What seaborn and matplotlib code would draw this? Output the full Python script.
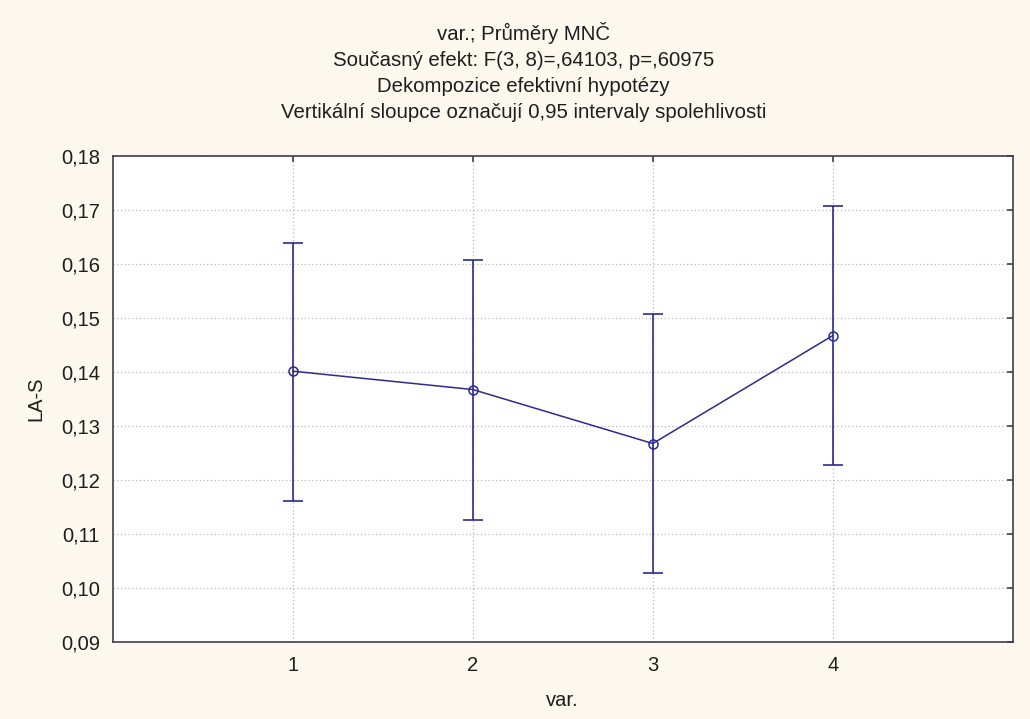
import matplotlib
matplotlib.use("Agg")
import matplotlib.pyplot as plt
import seaborn as sns
import pandas as pd
from matplotlib.ticker import FuncFormatter

categories = [1, 2, 3, 4]
means = [0.1401, 0.1367, 0.1267, 0.1467]
upper = [0.1639, 0.1607, 0.1506, 0.1707]
lower = [0.1160, 0.1126, 0.1028, 0.1227]
yticks = [0.09, 0.10, 0.11, 0.12, 0.13, 0.14, 0.15, 0.16, 0.17, 0.18]

title_lines = [
    "var.; Průměry MNČ",
    "Současný efekt: F(3, 8)=,64103, p=,60975",
    "Dekompozice efektivní hypotézy",
    "Vertikální sloupce označují 0,95 intervaly spolehlivosti",
]

sns.set_theme(style="white")
plt.rcParams['font.family'] = ['Liberation Sans', 'DejaVu Sans']

bg = "#fcf8ee"
line_color = "#2b2b8f"
text_color = "#1e1e1e"

W, H = 1030, 719
fig = plt.figure(figsize=(W / 100, H / 100), dpi=100, facecolor=bg)
ax = fig.add_axes([112.5 / W, 1 - 641.7 / H, (1013 - 112.5) / W, (641.7 - 155.7) / H])
ax.set_facecolor("white")

df = pd.DataFrame({"var.": categories, "LA-S": means})

yerr = [[m - l for m, l in zip(means, lower)], [u - m for u, m in zip(upper, means)]]
ax.errorbar(categories, means, yerr=yerr, fmt="none", ecolor=line_color,
            elinewidth=1.2, capsize=7, capthick=1.2, zorder=3)
sns.lineplot(data=df, x="var.", y="LA-S", ax=ax, color=line_color, linewidth=1.1,
             marker="o", markersize=6.5, markerfacecolor="none",
             markeredgecolor=line_color, markeredgewidth=1.1, zorder=4)

ax.set_xlim(0, 5)
ax.set_ylim(0.09, 0.18)
ax.set_xticks(categories)
ax.set_xticklabels([str(c) for c in categories])
ax.set_yticks(yticks)
ax.yaxis.set_major_formatter(FuncFormatter(lambda v, p: f"{v:.2f}".replace(".", ",")))

ax.grid(True, color="#b8b8b8", linestyle=(0, (1, 2)), linewidth=0.9)
ax.set_axisbelow(True)
for s in ax.spines.values():
    s.set_color("#404040")
    s.set_linewidth(1.2)
    s.set_visible(True)
ax.tick_params(axis="both", which="major", direction="in", length=4, width=1.1,
               color="#303030", top=True, right=True, labelsize=14.5,
               labelcolor=text_color)
ax.tick_params(axis="y", pad=9)
ax.tick_params(axis="x", pad=10)

ax.set_xlabel("var.", fontsize=14.5, color=text_color, labelpad=12)
ax.set_ylabel("LA-S", fontsize=14.5, color=text_color, labelpad=11)

baselines = [40, 66.5, 92.5, 118.5]
for t, yb in zip(title_lines, baselines):
    fig.text(0.508, 1 - yb / H, t, ha="center", va="baseline", fontsize=14.7,
             color=text_color)

fig.savefig("out.png", dpi=100, facecolor=bg)
